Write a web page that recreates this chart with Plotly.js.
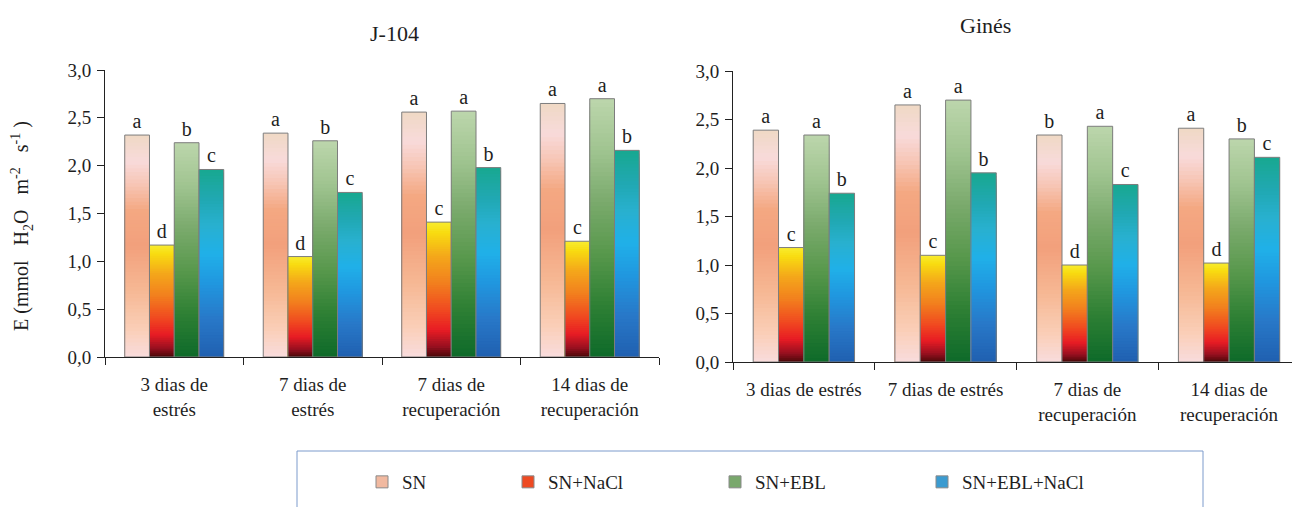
<!DOCTYPE html>
<html>
<head>
<meta charset="utf-8">
<script src="https://cdn.plot.ly/plotly-3.0.1.min.js"></script>
<style>html,body{margin:0;padding:0;background:#fff;}#chart{width:1292px;height:507px;}</style>
</head>
<body>
<div id="chart"></div>
<script>
// ---------------- DATA ----------------
const categoriesJ104 = ['3 dias de<br>estrés', '7 dias de<br>estrés', '7 dias de<br>recuperación', '14 dias de<br>recuperación'];
const categoriesGines = ['3 dias de estrés', '7 dias de estrés', '7 dias de<br>recuperación', '14 dias de<br>recuperación'];
const seriesNames = ['SN', 'SN+NaCl', 'SN+EBL', 'SN+EBL+NaCl'];

const j104_SN        = [2.32, 2.34, 2.56, 2.65];
const j104_SN_NaCl   = [1.17, 1.05, 1.41, 1.21];
const j104_SN_EBL    = [2.24, 2.26, 2.57, 2.70];
const j104_SN_EBL_NaCl = [1.96, 1.72, 1.98, 2.16];

const gines_SN        = [2.39, 2.65, 2.34, 2.41];
const gines_SN_NaCl   = [1.18, 1.10, 1.00, 1.02];
const gines_SN_EBL    = [2.34, 2.70, 2.43, 2.30];
const gines_SN_EBL_NaCl = [1.74, 1.95, 1.83, 2.11];

const j104_letters_SN = ['a', 'a', 'a', 'a'];
const j104_letters_SN_NaCl = ['d', 'd', 'c', 'c'];
const j104_letters_SN_EBL = ['b', 'b', 'a', 'a'];
const j104_letters_SN_EBL_NaCl = ['c', 'c', 'b', 'b'];

const gines_letters_SN = ['a', 'a', 'b', 'a'];
const gines_letters_SN_NaCl = ['c', 'c', 'd', 'd'];
const gines_letters_SN_EBL = ['a', 'a', 'a', 'b'];
const gines_letters_SN_EBL_NaCl = ['b', 'b', 'c', 'c'];

const yTickVals = [0, 0.5, 1.0, 1.5, 2.0, 2.5, 3.0];

// ---------------- STYLE ----------------
const FONT = 'Liberation Serif, Times New Roman, serif';
const TXT = '#1e1e1e';
// vertical gradients, stops from bar bottom (0) to bar top (1)
const gradients = [
  [[0, '#f9dcdc'], [0.12, '#facfb8'], [0.3, '#f6b894'], [0.5, '#f2a07c'], [0.66, '#f4a882'], [0.78, '#f7c6b6'], [0.88, '#f8dada'], [1, '#efd9c4']],
  [[0, '#4a0808'], [0.08, '#9a1020'], [0.2, '#e81c24'], [0.35, '#f04a20'], [0.55, '#f2801e'], [0.75, '#f4a81a'], [0.92, '#f8dc10'], [1, '#f8ec30']],
  [[0, '#0e6a2a'], [0.2, '#2e8034'], [0.4, '#58984c'], [0.6, '#7aaa6c'], [0.8, '#a0c490'], [1, '#bcd6ac']],
  [[0, '#2060b0'], [0.2, '#2878c8'], [0.4, '#2098e0'], [0.55, '#20b0e8'], [0.7, '#28b0d0'], [0.85, '#20a8b0'], [1, '#18a890']]
];
const legendColors = ['#f1b9a0', '#ee4a22', '#79a86c', '#3b9bd0'];
const NBANDS = 60;

function hex2rgb(h) { return [parseInt(h.substr(1, 2), 16), parseInt(h.substr(3, 2), 16), parseInt(h.substr(5, 2), 16)]; }
function gradColor(stops, t) {
  for (let i = 1; i < stops.length; i++) {
    if (t <= stops[i][0]) {
      const a = stops[i - 1], b = stops[i];
      const f = (t - a[0]) / (b[0] - a[0]);
      const ca = hex2rgb(a[1]), cb = hex2rgb(b[1]);
      return 'rgb(' + ca.map((v, j) => Math.round(v + (cb[j] - v) * f)).join(',') + ')';
    }
  }
  return stops[stops.length - 1][1];
}

const panels = [
  { cats: categoriesJ104, xa: 'x', ya: 'y',
    vals: [j104_SN, j104_SN_NaCl, j104_SN_EBL, j104_SN_EBL_NaCl],
    letters: [j104_letters_SN, j104_letters_SN_NaCl, j104_letters_SN_EBL, j104_letters_SN_EBL_NaCl] },
  { cats: categoriesGines, xa: 'x2', ya: 'y2',
    vals: [gines_SN, gines_SN_NaCl, gines_SN_EBL, gines_SN_EBL_NaCl],
    letters: [gines_letters_SN, gines_letters_SN_NaCl, gines_letters_SN_EBL, gines_letters_SN_EBL_NaCl] }
];
const legendIds = ['legend', 'legend2', 'legend3', 'legend4'];

const traces = [];
panels.forEach((p, pi) => {
  p.vals.forEach((v, si) => {
    // gradient bands: tallest first, shorter ones drawn over
    for (let k = 0; k < NBANDS; k++) {
      const frac = (NBANDS - k) / NBANDS;
      traces.push({
        type: 'bar', x: p.cats, y: v.map(d => d * frac),
        xaxis: p.xa, yaxis: p.ya, offsetgroup: 'g' + si, name: seriesNames[si],
        marker: { color: gradColor(gradients[si], frac - 0.5 / NBANDS), line: { width: 0 } },
        showlegend: false, hoverinfo: 'skip'
      });
    }
    // outline + significance letters
    traces.push({
      type: 'bar', x: p.cats, y: v, xaxis: p.xa, yaxis: p.ya, offsetgroup: 'g' + si,
      name: seriesNames[si], showlegend: false,
      marker: { color: 'rgba(0,0,0,0)', line: { color: '#7d7d7d', width: 1 } },
      text: p.letters[si], textposition: 'outside', cliponaxis: false, textangle: 0,
      outsidetextfont: { family: FONT, size: 20, color: TXT }, constraintext: 'none',
      hovertemplate: '%{x}<br>' + seriesNames[si] + ': %{y}<extra></extra>'
    });
    // legend entry (no marks of its own)
    if (pi === 0) {
      traces.push({
        type: 'bar', x: p.cats, y: p.cats.map(() => null), xaxis: p.xa, yaxis: p.ya, offsetgroup: 'g' + si,
        name: seriesNames[si], showlegend: true, legend: legendIds[si],
        marker: { color: legendColors[si], line: { color: '#8a8a8a', width: 1 } }, hoverinfo: 'skip'
      });
    }
  });
});

const W = 1292, H = 507;
const px = x => x / W, py = y => (H - y) / H;

function yaxisDef(domain) {
  return {
    domain: domain, range: [0, 3], tickvals: yTickVals, tickformat: '.1f',
    showline: true, linecolor: '#222', linewidth: 1, ticks: 'outside', ticklen: 7, tickcolor: '#222',
    showgrid: false, zeroline: false, tickfont: { family: FONT, size: 19, color: TXT }, ticklabelstandoff: 2
  };
}
function xaxisDef(domain, range, anchor) {
  return {
    domain: domain, type: 'category', range: range, anchor: anchor,
    showline: true, linecolor: '#222', linewidth: 1, ticks: 'outside', ticklen: 7, tickcolor: '#222',
    tickson: 'boundaries', showgrid: false, tickfont: { family: FONT, size: 19, color: TXT }, ticklabelstandoff: 10
  };
}

function legendDef(x) {
  return {
    x: px(x), xanchor: 'left', y: py(482), yanchor: 'middle', orientation: 'h',
    bgcolor: 'rgba(0,0,0,0)', borderwidth: 0, font: { family: FONT, size: 19, color: TXT }
  };
}

const layout = {
  width: W, height: H,
  margin: { l: 0, r: 0, t: 0, b: 0, autoexpand: false },
  paper_bgcolor: '#fff', plot_bgcolor: 'rgba(0,0,0,0)',
  separators: ',.',
  barmode: 'group', bargap: 0.285, bargroupgap: 0,
  font: { family: FONT, color: TXT, size: 19 },
  xaxis: xaxisDef([px(105), px(659)], [-0.5, 3.5], 'y'),
  yaxis: yaxisDef([py(357), py(70)]),
  xaxis2: xaxisDef([px(733), 1], [-0.5, 3.444], 'y2'),
  yaxis2: Object.assign(yaxisDef([py(362), py(71)]), { anchor: 'x2' }),
  legend: legendDef(362),
  legend2: legendDef(508),
  legend3: legendDef(715),
  legend4: legendDef(922),
  shapes: [
    { type: 'rect', xref: 'paper', yref: 'paper', x0: px(297), x1: px(1203), y0: -0.1, y1: py(451),
      line: { color: '#7d9bcc', width: 1 }, fillcolor: 'rgba(0,0,0,0)', layer: 'below' }
  ],
  annotations: [
    { text: 'J-104', xref: 'paper', yref: 'paper', x: px(394), y: py(33), showarrow: false,
      font: { family: FONT, size: 22, color: TXT }, xanchor: 'center', yanchor: 'middle' },
    { text: 'Ginés', xref: 'paper', yref: 'paper', x: px(985), y: py(25), showarrow: false,
      font: { family: FONT, size: 22, color: TXT }, xanchor: 'center', yanchor: 'middle' },
    { text: 'E (mmol   H<sub>2</sub>O   m<sup>-2</sup>   s<sup>-1</sup> )', xref: 'paper', yref: 'paper',
      x: px(22), y: py(226), showarrow: false, textangle: -90,
      font: { family: FONT, size: 20, color: TXT }, xanchor: 'center', yanchor: 'middle' }
  ]
};

Plotly.newPlot('chart', traces, layout, { displayModeBar: false });
</script>
</body>
</html>
